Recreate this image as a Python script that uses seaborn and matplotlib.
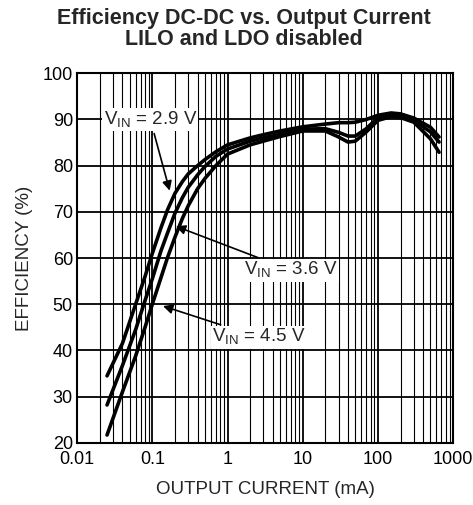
import pandas as pd
import matplotlib.pyplot as plt
import matplotlib.ticker as mticker
import seaborn as sns

# values
current_ma = [0.025, 0.04, 0.06, 0.08, 0.1, 0.13, 0.16, 0.2, 0.25, 0.3, 0.4, 0.5, 0.7,
              1, 2, 3, 5, 10, 20, 30, 40, 50, 70, 100, 150, 200, 300, 500, 650]
eff_29 = [34.5, 41.5, 50.0, 56.0, 61.0, 66.5, 70.5, 74.0, 76.5, 78.2, 80.0, 81.3, 83.0,
          84.5, 86.0, 86.7, 87.5, 88.4, 89.0, 89.3, 89.3, 89.4, 90.0, 90.9, 91.4, 91.2,
          90.3, 88.3, 86.2]
eff_36 = [28.2, 36.7, 44.5, 50.8, 55.5, 61.5, 65.5, 69.7, 73.0, 75.3, 78.0, 79.8, 82.0,
          83.6, 85.3, 86.0, 86.8, 87.9, 88.0, 87.2, 86.4, 86.4, 88.0, 90.4, 91.0, 90.8,
          89.8, 87.3, 85.1]
eff_45 = [21.7, 31.0, 38.8, 45.0, 50.0, 55.7, 60.2, 64.5, 68.5, 71.3, 75.0, 77.2, 80.0,
          82.5, 84.5, 85.3, 86.3, 87.5, 87.5, 86.2, 85.1, 85.3, 87.3, 89.8, 90.6, 90.4,
          89.4, 85.8, 82.9]

df = pd.concat([
    pd.DataFrame({"current": current_ma, "eff": eff_29, "vin": "2.9 V"}),
    pd.DataFrame({"current": current_ma, "eff": eff_36, "vin": "3.6 V"}),
    pd.DataFrame({"current": current_ma, "eff": eff_45, "vin": "4.5 V"}),
])

sns.set_style("white")
plt.rcParams['font.family'] = ['Liberation Sans', 'DejaVu Sans']

fig = plt.figure(figsize=(4.73, 5.05), dpi=100)
ax = fig.add_axes([0.163, 0.123, 0.795, 0.732])

sns.lineplot(data=df, x="current", y="eff", hue="vin", palette=["black"] * 3,
             linewidth=2.6, legend=False, ax=ax, sort=False)

ax.set_xscale("log")
ax.set_xlim(0.01, 1000)
ax.set_ylim(20, 100)
ax.set_yticks(range(20, 101, 10))
ax.xaxis.set_major_locator(mticker.LogLocator(base=10))
ax.xaxis.set_minor_locator(mticker.LogLocator(base=10, subs=range(2, 10)))
ax.xaxis.set_major_formatter(mticker.FuncFormatter(lambda v, p: f"{v:g}"))
ax.xaxis.set_minor_formatter(mticker.NullFormatter())

ax.grid(which="major", color="black", linewidth=1.3)
ax.grid(which="minor", axis="x", color="black", linewidth=0.8)
for s in ax.spines.values():
    s.set_color("black")
    s.set_linewidth(1.5)
ax.tick_params(which="both", length=0, labelsize=13, colors="black")
ax.tick_params(axis="x", pad=6)
ax.tick_params(axis="y", pad=3)

ax.set_xlabel("OUTPUT CURRENT (mA)", fontsize=13.5, labelpad=9)
ax.set_ylabel("EFFICIENCY (%)", fontsize=13.5, labelpad=7)
fig.suptitle("Efficiency DC-DC vs. Output Current\nLILO and LDO disabled",
             fontsize=15.5, fontweight="bold", x=0.515, y=0.985, linespacing=1.0)

box = dict(facecolor="white", edgecolor="none", pad=1)
arrow = dict(arrowstyle="-|>", color="black", lw=1.2, mutation_scale=14)
ax.annotate("V$_{\\mathregular{IN}}$ = 2.9 V", xy=(0.174, 74), xytext=(0.094, 90),
            fontsize=13.5, ha="center", va="center", bbox=box, arrowprops=arrow)
ax.annotate("V$_{\\mathregular{IN}}$ = 3.6 V", xy=(0.19, 67.1), xytext=(6.9, 57.4),
            fontsize=13.5, ha="center", va="center", bbox=box, arrowprops=arrow)
ax.annotate("V$_{\\mathregular{IN}}$ = 4.5 V", xy=(0.128, 49.8), xytext=(2.59, 42.9),
            fontsize=13.5, ha="center", va="center", bbox=box, arrowprops=arrow)

plt.savefig("out.png", dpi=100)
